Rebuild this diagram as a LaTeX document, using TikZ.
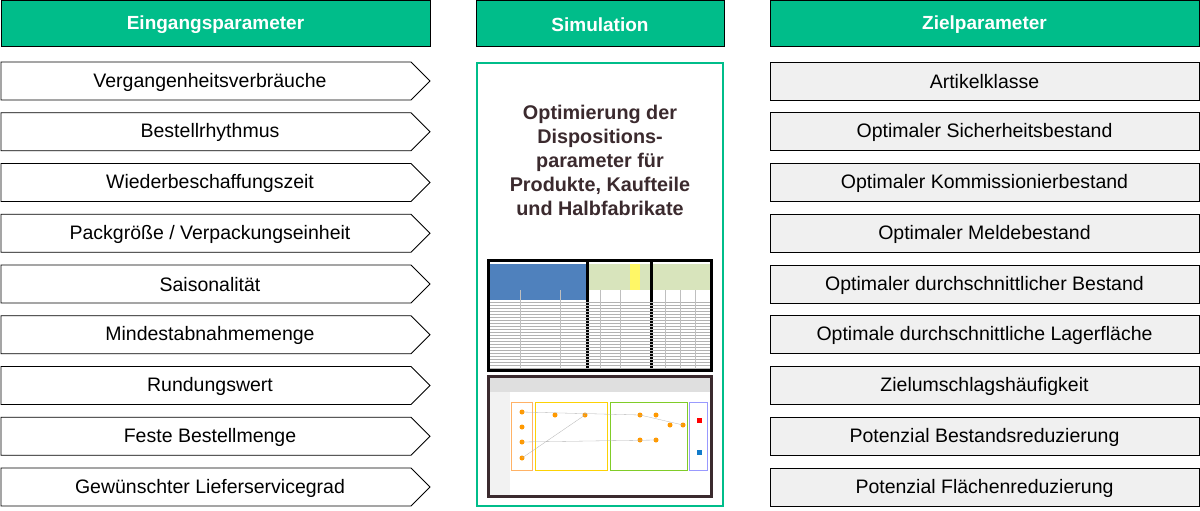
\documentclass[tikz,border=0pt]{standalone}
\usepackage{fontspec}
\setmainfont{Liberation Sans}
\definecolor{hgreen}{HTML}{00BD8A}
\definecolor{rgray}{HTML}{F0F0F0}
\definecolor{ttl}{HTML}{3B2A2E}
\definecolor{xblue}{HTML}{4F81BD}
\definecolor{xgreen}{HTML}{D8E4BC}
\begin{document}
\begin{tikzpicture}[x=1pt,y=-1pt,
  hdr/.style={draw=black,line width=1pt,fill=hgreen},
  htxt/.style={text=white,font=\bfseries\fontsize{19}{22}\selectfont},
  rtxt/.style={font=\fontsize{19.5}{22}\selectfont},
  zbox/.style={draw=black,line width=0.8pt,fill=rgray}]
\useasboundingbox (0,0) rectangle (1200,511);
% headers
\draw[hdr] (1,1) rectangle (430,47); \node[htxt] (h1) at (215.5,25) {Eingangsparameter};
\draw[hdr] (476,1) rectangle (724,47); \node[htxt] (h2) at (600,25) {Simulation};
\draw[hdr] (770,1) rectangle (1199,47); \node[htxt] (h3) at (984.5,25) {Zielparameter};
% left arrows
\foreach [count=\i from 0] \t in {Vergangenheitsverbräuche,Bestellrhythmus,Wiederbeschaffungszeit,Packgröße / Verpackungseinheit,Saisonalität,Mindestabnahmemenge,Rundungswert,Feste Bestellmenge,Gewünschter Lieferservicegrad}{
  \pgfmathsetmacro\yy{62+50.75*\i}
  \draw[line width=0.8pt,fill=white] (1,\yy) -- (411,\yy) -- (430,\yy+19) -- (411,\yy+38) -- (1,\yy+38) -- cycle;
  \node[rtxt] (l\i) at (210,\yy+20) {\t};
}
\foreach [count=\i from 0] \t in {Artikelklasse,Optimaler Sicherheitsbestand,Optimaler Kommissionierbestand,Optimaler Meldebestand,Optimaler durchschnittlicher Bestand,Optimale durchschnittliche Lagerfläche,Zielumschlagshäufigkeit,Potenzial Bestandsreduzierung,Potenzial Flächenreduzierung}{
  \pgfmathsetmacro\yy{62+50.75*\i}
  \draw[zbox] (770,\yy) rectangle (1199,\yy+38);
  \node[rtxt] (r\i) at (984.5,\yy+20) {\t};
}
% simulation box
\draw[hgreen,line width=1.2pt,fill=white] (477,63) rectangle (723,506);
\node[text=ttl,font=\bfseries\fontsize{19.8}{24}\selectfont,align=center] (sim) at (600,160)
 {Optimierung der\\Dispositions-\\parameter für\\Produkte, Kaufteile\\und Halbfabrikate};
% screenshot 1 (table)
\fill[black] (487,259) rectangle (713,372);
\fill[white] (490,262) rectangle (710,369);
\fill[xblue] (490,264) rectangle (586,300);
\fill[xgreen] (589,264) rectangle (710,290);
\fill[yellow!60] (630,264) rectangle (640,290);
\fill[black] (586,262) rectangle (589,369);
\fill[black] (650,262) rectangle (653,369);
\foreach \k in {0,...,22}{\draw[gray!60,line width=0.3pt] (490,302+3*\k) -- (710,302+3*\k);}
\foreach \xx in {520,560,600,620,665,680,695}{\draw[gray!50,line width=0.3pt] (\xx,290) -- (\xx,369);}
% screenshot 2 (workflow)
\fill[ttl] (487,375) rectangle (713,498);
\fill[white] (490,378) rectangle (710,495);
\fill[gray!25] (490,378) rectangle (710,392);
\fill[gray!10] (490,392) rectangle (510,495);
\draw[orange!60,line width=0.6pt] (511,402) rectangle (532,470);
\draw[yellow!70!orange,line width=0.6pt] (535,402) rectangle (607,470);
\draw[yellow!50!green,line width=0.6pt] (610,402) rectangle (687,470);
\draw[blue!40,line width=0.6pt] (689,402) rectangle (707,470);
\foreach \p in {(522,412),(522,427),(522,442),(522,458),(555,415),(585,415),(640,415),(656,415),(640,440),(656,440),(670,425),(683,425)}{\fill[orange!80!yellow] \p circle (2.5);}
\fill[red] (697,418) rectangle (702,423);
\fill[cyan!60!blue] (697,450) rectangle (702,455);
\draw[gray!60,line width=0.3pt] (522,412) -- (640,415) -- (683,425) (522,458) -- (585,415) (522,442) -- (656,440);
\end{tikzpicture}
\end{document}
